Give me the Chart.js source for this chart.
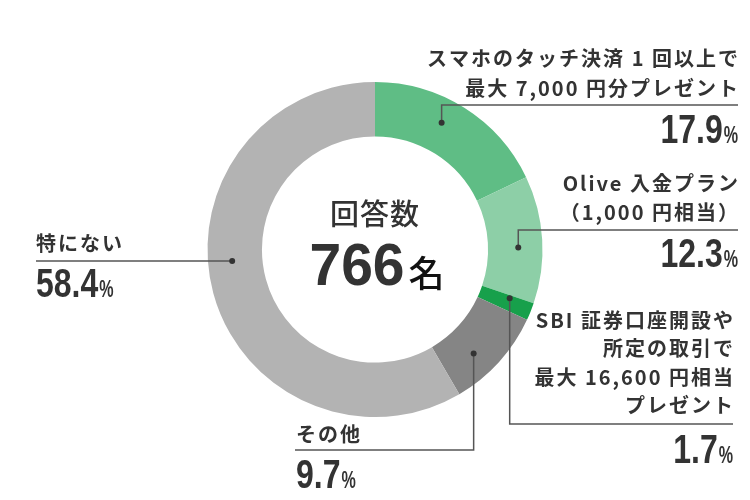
<!DOCTYPE html>
<html>
  <head>
    <meta charset="utf-8">
    <title>回答数 766名</title>
    <script src="https://cdn.jsdelivr.net/npm/chart.js@4.4.1/dist/chart.umd.min.js"></script>
    <style>
      html, body { margin: 0; padding: 0; background: #fff; }
      .wrap { width: 750px; height: 500px; }
    </style>
  </head>
  <body>
    <div class="wrap">
      <canvas id="canvas" width="750" height="500"></canvas>
    </div>
    <script>
      // data
      var categories = [
        ['スマホのタッチ決済 1 回以上で', '最大 7,000 円分プレゼント'],
        ['Olive 入金プラン', '（1,000 円相当）'],
        ['SBI 証券口座開設や', '所定の取引で', '最大 16,600 円相当', 'プレゼント'],
        ['その他'],
        ['特にない']
      ];
      var percents = [17.9, 12.3, 1.7, 9.7, 58.4];
      var sliceColors = ['#5fbd85', '#8dcfa7', '#17a04b', '#858585', '#b3b3b3'];
      var centerTitle = '回答数';
      var respondents = 766;
      var respondentsUnit = '名';

      var JP = '"Noto Sans CJK JP", "Noto Sans", sans-serif';
      var NUM = '"Liberation Sans", Arial, sans-serif';
      var INK = '#333333';

      // label layout: where each callout sits
      var callouts = [
        { side: 'right', at: 0.43, x: 738, lineY: 105, textY: [58, 88], pctBase: 143 },
        { side: 'right', at: 0.56, x: 738, lineY: 230, textY: [183, 212], pctBase: 267 },
        { side: 'right', at: 0.2, x: 733, lineY: 424, textY: [320, 348, 377, 405], pctBase: 463 },
        { side: 'left', at: 0.62, x: 296, lineY: 450, textY: [434], pctBase: 488 },
        { side: 'left', at: 0.55, x: 36, lineY: 260, textY: [243], pctBase: 297 }
      ];

      function drawPercent(ctx, value, x, base, align) {
        var sx = 0.8;
        ctx.save();
        ctx.fillStyle = INK;
        ctx.textBaseline = 'alphabetic';
        ctx.textAlign = 'left';
        ctx.font = 'bold 40px ' + NUM;
        var num = value.toFixed(1);
        var wNum = ctx.measureText(num).width * sx;
        ctx.font = 'bold 23px ' + NUM;
        var wPct = ctx.measureText('%').width * 0.7 + 1;
        var left = align === 'right' ? x - wNum - wPct : x;
        ctx.translate(left, base);
        ctx.save();
        ctx.scale(sx, 1);
        ctx.font = 'bold 40px ' + NUM;
        ctx.fillText(num, 0, 0);
        ctx.restore();
        ctx.scale(0.7, 1);
        ctx.font = 'bold 23px ' + NUM;
        ctx.fillText('%', (wNum + 1) / 0.7, 0);
        ctx.restore();
      }

      var calloutPlugin = {
        id: 'callouts',
        afterDraw: function(chart) {
          var ctx = chart.ctx;
          var arcs = chart.getDatasetMeta(0).data;
          ctx.save();
          arcs.forEach(function(arc, i) {
            var c = callouts[i];
            var p = arc.getProps(['x', 'y', 'startAngle', 'endAngle', 'innerRadius', 'outerRadius'], true);
            var a = p.startAngle + (p.endAngle - p.startAngle) * c.at;
            var r = (p.innerRadius + p.outerRadius) / 2 + 3;
            var dx = p.x + Math.cos(a) * r;
            var dy = p.y + Math.sin(a) * r;

            // leader line
            ctx.strokeStyle = '#555555';
            ctx.lineWidth = 1.5;
            ctx.beginPath();
            ctx.moveTo(dx, dy);
            if (c.side === 'right') {
              ctx.lineTo(dx, c.lineY);
              ctx.lineTo(c.x, c.lineY);
            } else if (Math.abs(dy - c.lineY) > 2) {
              ctx.lineTo(dx, c.lineY);
              ctx.lineTo(c.x - 1, c.lineY);
            } else {
              ctx.lineTo(c.x, dy);
            }
            ctx.stroke();
            ctx.fillStyle = INK;
            ctx.beginPath();
            ctx.arc(dx, dy, 3, 0, Math.PI * 2);
            ctx.fill();

            // label lines
            ctx.font = 'bold 20px ' + JP;
            ctx.letterSpacing = '2px';
            ctx.textBaseline = 'middle';
            ctx.textAlign = c.side === 'right' ? 'right' : 'left';
            categories[i].forEach(function(line, k) {
              ctx.fillText(line, c.side === 'right' ? c.x + 2 : c.x, c.textY[k]);
            });
            ctx.letterSpacing = '0px';
            drawPercent(ctx, percents[i], c.x, c.pctBase, c.side === 'right' ? 'right' : 'left');
          });

          // centre text
          var cx = arcs[0].x, cy = arcs[0].y;
          ctx.textAlign = 'center';
          ctx.textBaseline = 'middle';
          ctx.fillStyle = INK;
          ctx.font = '500 29px ' + JP;
          ctx.letterSpacing = '1px';
          ctx.fillText(centerTitle, cx + 0, cy - 36);
          ctx.letterSpacing = '0px';

          var sx = 0.95;
          ctx.font = 'bold 60px ' + NUM;
          var num = String(respondents);
          var wNum = ctx.measureText(num).width * sx;
          ctx.font = '500 36px ' + JP;
          var wUnit = ctx.measureText(respondentsUnit).width;
          var left = cx - (wNum + wUnit + 4) / 2 + 2;
          ctx.save();
          ctx.translate(left, cy + 35);
          ctx.scale(sx, 1);
          ctx.textAlign = 'left';
          ctx.textBaseline = 'alphabetic';
          ctx.font = 'bold 60px ' + NUM;
          ctx.fillText(num, 0, 0);
          ctx.restore();
          ctx.textAlign = 'left';
          ctx.textBaseline = 'alphabetic';
          ctx.fillStyle = '#111111';
          ctx.font = '500 36px ' + JP;
          ctx.fillText(respondentsUnit, left + wNum + 4, cy + 37);
          ctx.restore();
        }
      };

      var ctx = document.getElementById('canvas').getContext('2d');
      window.myDoughnut = new Chart(ctx, {
        type: 'doughnut',
        data: {
          labels: categories.map(function(l) { return l.join(''); }),
          datasets: [{
            data: percents,
            backgroundColor: sliceColors,
            borderWidth: 0
          }]
        },
        options: {
          responsive: false,
          animation: false,
          cutout: '67.5%',
          layout: { padding: { top: 82, bottom: 83, left: 0, right: 0 } },
          plugins: {
            legend: { display: false },
            tooltip: { enabled: false }
          }
        },
        plugins: [calloutPlugin]
      });
    </script>
  </body>
</html>
